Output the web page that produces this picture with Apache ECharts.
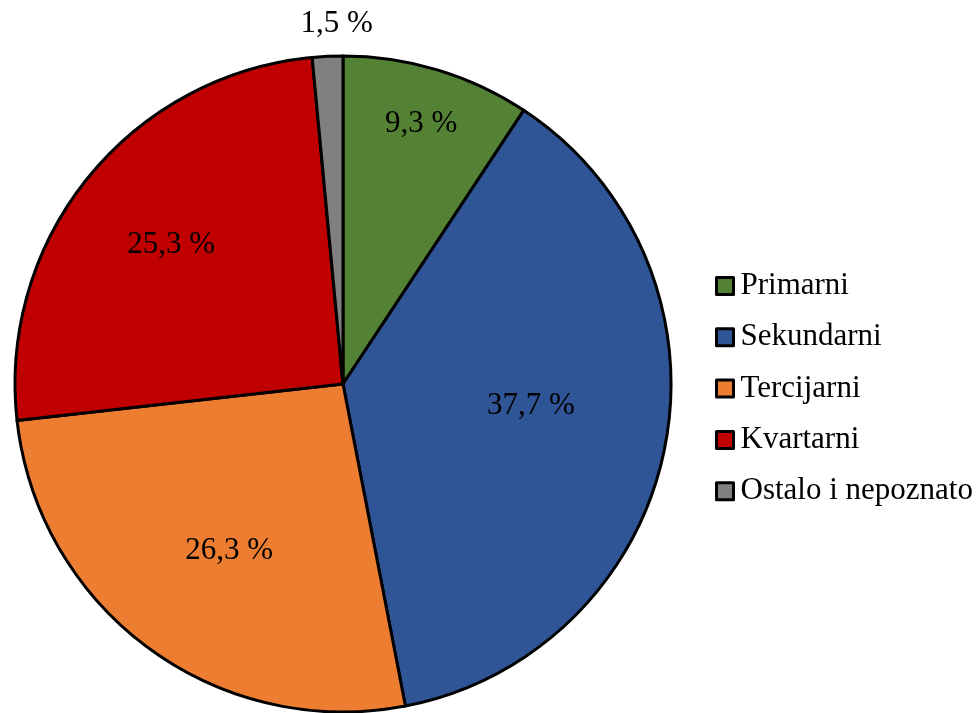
<!DOCTYPE html>
<html>
<head>
<meta charset="utf-8">
<script src="https://cdn.jsdelivr.net/npm/echarts@6/dist/echarts.min.js"></script>
<style>html,body{margin:0;padding:0;background:#fff}#c{width:978px;height:713px}</style>
</head>
<body>
<div id="c"></div>
<script>
const categories = ['Primarni', 'Sekundarni', 'Tercijarni', 'Kvartarni', 'Ostalo i nepoznato'];
const values = [9.3, 37.7, 26.3, 25.3, 1.5];
const labels = ['9,3 %', '37,7 %', '26,3 %', '25,3 %', '1,5 %'];
const colors = ['#548235', '#2F5597', '#ED7D31', '#C00000', '#808080'];
// label placement: fraction of radius and angular shift (degrees, clockwise) from the slice middle
const labelRadius = [0.829, 0.577, 0.616, 0.674, 1.098];
const labelAngleShift = [0, -4.6, -2, -0.1, 1.7];

const CX = 343, CY = 384, R = 328;
const FONT = 'Liberation Serif, Times New Roman, serif';

const chart = echarts.init(document.getElementById('c'), null, {renderer: 'canvas'});
chart.setOption({
  animation: false,
  backgroundColor: '#ffffff',
  color: colors,
  legend: {
    orient: 'vertical',
    left: 715,
    top: 270,
    padding: 0,
    itemWidth: 17,
    itemHeight: 17,
    itemGap: 19.3,
    icon: 'rect',
    itemStyle: {borderColor: '#000', borderWidth: 3},
    textStyle: {fontFamily: FONT, fontSize: 31, color: '#000', lineHeight: 32, padding: [0, 0, 0, 2]},
    data: categories
  },
  series: [{
    type: 'pie',
    center: [CX, CY],
    radius: R,
    startAngle: 90,
    clockwise: true,
    avoidLabelOverlap: false,
    itemStyle: {borderColor: '#000', borderWidth: 3},
    emphasis: {disabled: true},
    label: {
      show: true,
      position: 'inside',
      fontFamily: FONT,
      fontSize: 31,
      color: '#000',
      formatter: p => labels[p.dataIndex]
    },
    labelLine: {show: false},
    labelLayout: function (p) {
      const i = p.dataIndex;
      const lr = p.labelRect;
      const lx = lr.x + lr.width / 2, ly = lr.y + lr.height / 2;
      const a = Math.atan2(ly - CY, lx - CX) + labelAngleShift[i] * Math.PI / 180;
      const r = labelRadius[i] * R;
      return {x: CX + r * Math.cos(a), y: CY + r * Math.sin(a), align: 'center', verticalAlign: 'middle'};
    },
    data: categories.map((n, i) => ({name: n, value: values[i]}))
  }]
});
</script>
</body>
</html>
